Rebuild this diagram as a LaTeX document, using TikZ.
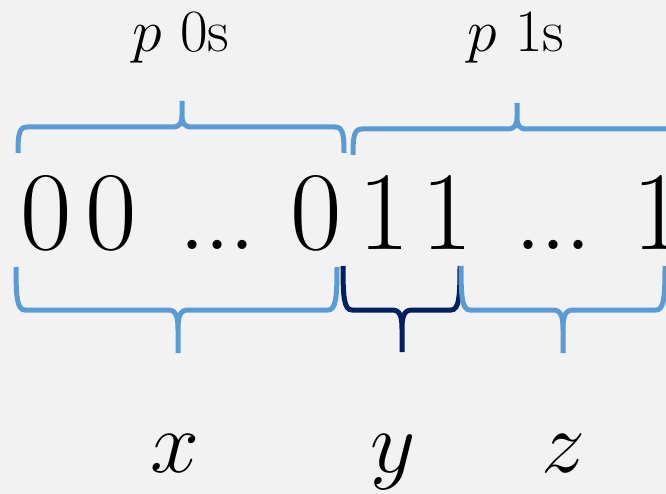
\RequirePackage{fix-cm}
\documentclass[tikz,border=0pt]{standalone}
\usepackage{tikz}
\usepackage{amsmath}

\definecolor{bracelight}{RGB}{91,155,213}
\definecolor{bracedark}{RGB}{0,32,96}
\definecolor{backgr}{RGB}{242,242,242}

% curly brace: [colour]{x1}{x2}{x tip}{y ends}{y bar}{y tip}
\newcommand{\curly}[7][bracelight]{%
  \draw[brc, #1] (#2,#5) .. controls (#2,{#5+0.7*(#6-#5)}) and ({#2+1},#6) .. ({#2+9},#6)
    -- ({#4-10},#6) .. controls ({#4-2},#6) and (#4,{#6+0.15*(#7-#6)}) .. (#4,{#6+0.45*(#7-#6)})
    -- (#4,#7)
    (#4,{#6+0.45*(#7-#6)}) .. controls (#4,{#6+0.15*(#7-#6)}) and ({#4+2},#6) .. ({#4+10},#6)
    -- ({#3-9},#6) .. controls ({#3-1},#6) and (#3,{#5+0.7*(#6-#5)}) .. (#3,#5);}

\begin{document}
\begin{tikzpicture}[x=1pt, y=-1pt,
    brc/.style = {line width=5pt},
    bit/.style = {font=\fontsize{112}{112}\selectfont, inner sep=0pt, anchor=base},
    lbl/.style = {font=\fontsize{60}{60}\selectfont, inner sep=0pt, anchor=base},
    var/.style = {font=\fontsize{88}{88}\selectfont, inner sep=0pt, anchor=base}]
    \fill[backgr] (0,0) rectangle (666,494);
    \useasboundingbox (0,0) rectangle (666,494);
    \clip (0,0) rectangle (666,494);

    % counts above
    \node[lbl] (zeroslbl) at (181,52) {$p$ 0s};
    \node[lbl] (oneslbl) at (516,52) {$p$ 1s};

    % the string
    \node[bit] (zeroa) at (46,250) {0};
    \node[bit] (zerob) at (111,250) {0};
    \node[bit] (dotsa) at (217,250) {.\kern-3pt.\kern-3pt.};
    \node[bit] (zeroc) at (316,250) {0};
    \node[bit] (onea) at (384,250) {1};
    \node[bit] (oneb) at (447,250) {1};
    \node[bit] (dotsb) at (553,250) {.\kern-3pt.\kern-3pt.};
    \node[bit] (onec) at (658,250) {1};

    % parts below
    \node[var] (xlbl) at (175,472) {$x$};
    \node[var] (ylbl) at (393,472) {$y$};
    \node[var] (zlbl) at (563,472) {$z$};

    % braces
    \curly{18}{344}{182}{153}{127}{101}
    \curly{353}{681}{517}{155}{129}{103}
    \curly{16}{337}{178}{267}{310}{353}
    \curly[bracedark]{343}{460}{402}{266}{310}{352}
    \curly{461}{665}{563}{266}{310}{353}
\end{tikzpicture}
\end{document}
